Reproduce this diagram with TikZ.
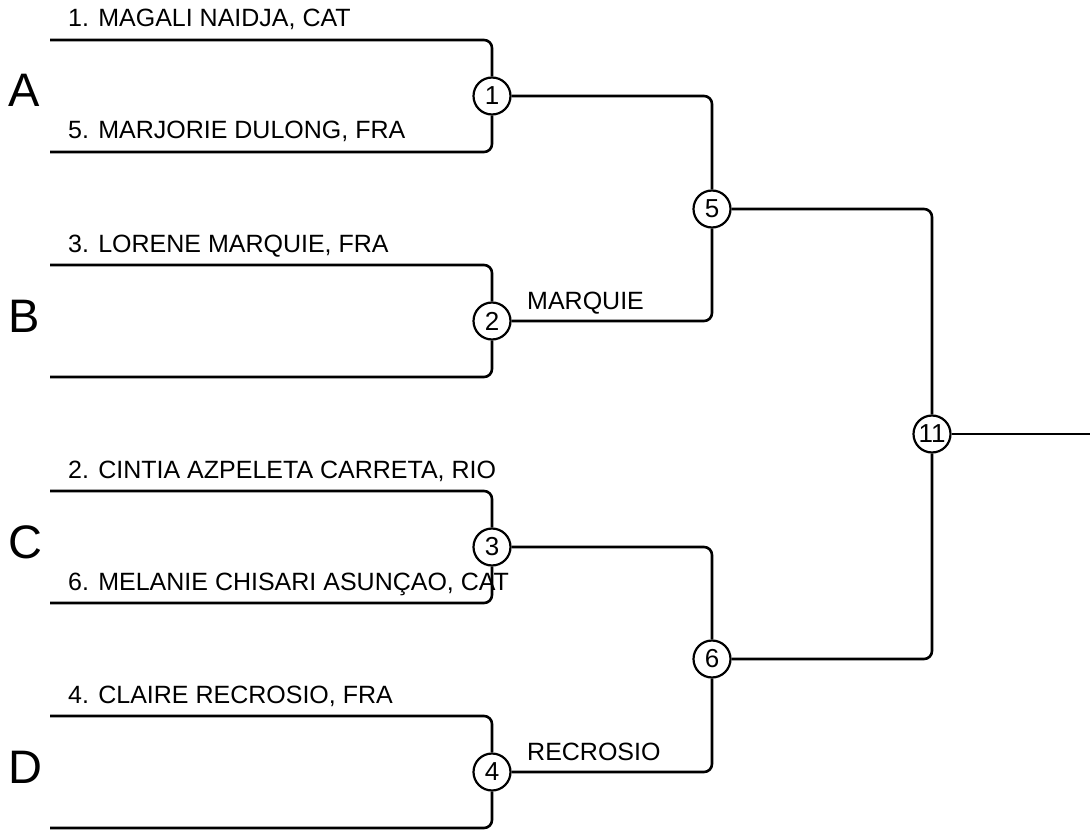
\documentclass[tikz,border=0pt]{standalone}
\usepackage{fontspec}
\setmainfont{Liberation Sans}
\usetikzlibrary{positioning}

\begin{document}
\begin{tikzpicture}[
  x=1pt, y=-1pt,
  font=\fontsize{25}{29}\selectfont,
  bline/.style={line width=2.6pt, rounded corners=8pt},
  match/.style={circle, draw, line width=2.2pt, fill=white, inner sep=0pt,
                minimum size=37pt, font=\fontsize{26}{28}\selectfont},
  entrant/.style={anchor=base west, inner sep=0pt},
  pool/.style={anchor=base west, inner sep=0pt, font=\fontsize{47}{50}\selectfont},
]
\useasboundingbox (0,0) rectangle (1090,832);

% pools
\node[pool] (poolA) at (8,107) {A};
\node[pool] (poolB) at (8,332) {B};
\node[pool] (poolC) at (8,558) {C};
\node[pool] (poolD) at (8,783) {D};

% free ends of the first round
\coordinate (a1) at (50,40);  \coordinate (a2) at (50,152);
\coordinate (b1) at (50,265); \coordinate (b2) at (50,377);
\coordinate (c1) at (50,491); \coordinate (c2) at (50,603);
\coordinate (d1) at (50,716); \coordinate (d2) at (50,828);
\coordinate (final) at (1090,434);

% matches
\node[match] (m1) at (492,96) {1};
\node[match] (m2) at (492,321) {2};
\node[match] (m3) at (492,547) {3};
\node[match] (m4) at (492,772) {4};
\node[match] (m5) at (712,209) {5};
\node[match] (m6) at (712,659) {6};
\node[match] (m11) at (932,434) {11};

% bracket lines
\draw[bline] (a1) -| (m1);
\draw[bline] (a2) -| (m1);
\draw[bline] (b1) -| (m2);
\draw[bline] (b2) -| (m2);
\draw[bline] (c1) -| (m3);
\draw[bline] (c2) -| (m3);
\draw[bline] (d1) -| (m4);
\draw[bline] (d2) -| (m4);
\draw[bline] (m1) -| (m5);
\draw[bline] (m2) -| (m5);
\draw[bline] (m3) -| (m6);
\draw[bline] (m4) -| (m6);
\draw[bline] (m5) -| (m11);
\draw[bline] (m6) -| (m11);
\draw[bline] (m11) -- (final);

% entrants
\node[entrant] (e1) at (68,27)  {1. MAGALI NAIDJA, CAT};
\node[entrant] (e5) at (68,139) {5. MARJORIE DULONG, FRA};
\node[entrant] (e3) at (68,252) {3. LORENE MARQUIE, FRA};
\node[entrant] (e2) at (68,478) {2. CINTIA AZPELETA CARRETA, RIO};
\node[entrant] (e6) at (68,590) {6. MELANIE CHISARI ASUNÇAO, CAT};
\node[entrant] (e4) at (68,703) {4. CLAIRE RECROSIO, FRA};

% winners
\node[entrant] (w2) at (527,309) {MARQUIE};
\node[entrant] (w4) at (527,760) {RECROSIO};
\end{tikzpicture}
\end{document}
